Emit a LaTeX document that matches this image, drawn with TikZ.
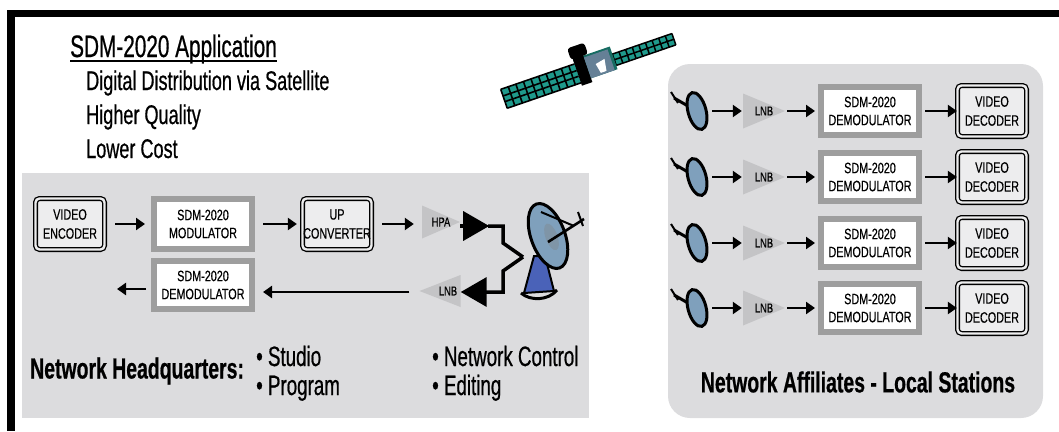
\documentclass[tikz,border=0pt]{standalone}
\usepackage{fontspec}
\setmainfont{Liberation Sans}
\newfontfamily\narrowfont[FakeStretch=0.72,FakeBold=0.4]{Liberation Sans}
\newfontfamily\condfont[FakeStretch=0.67,FakeBold=0.6]{Liberation Sans}
\usetikzlibrary{arrows.meta,positioning}

\definecolor{panelgray}{HTML}{DCDCDE}
\definecolor{framegray}{HTML}{9E9E9E}
\definecolor{ampgray}{HTML}{C4C4C6}
\definecolor{dishblue}{HTML}{7FA0BC}
\definecolor{baseblue}{HTML}{4A62B8}
\definecolor{panelteal}{HTML}{1F9A8C}
\colorlet{boxfill}{white!50!panelgray}

\begin{document}
\begin{tikzpicture}[x=1pt, y=-1pt,
    modem/.style={draw=framegray, line width=6pt, fill=white, minimum width=98pt,
        minimum height=48pt, inner sep=0pt, align=center,
        font=\narrowfont\fontsize{15}{18}\selectfont},
    tvbox/.style={draw=black, line width=1.3pt, double=boxfill, double distance=2.4pt,
        rounded corners=4pt, fill=boxfill, minimum width=69pt, minimum height=51pt,
        inner sep=0pt, align=center, font=\narrowfont\fontsize{15}{19}\selectfont},
    amp/.style={minimum width=38pt, minimum height=33pt, inner sep=0pt,
        font=\narrowfont\fontsize{13}{13}\selectfont,
        path picture={\fill[ampgray] (path picture bounding box.north west)
            -- (path picture bounding box.east)
            -- (path picture bounding box.south west) -- cycle;}},
    ampback/.style={minimum width=38pt, minimum height=33pt, inner sep=0pt,
        font=\narrowfont\fontsize{13}{13}\selectfont,
        path picture={\fill[ampgray] (path picture bounding box.north east)
            -- (path picture bounding box.west)
            -- (path picture bounding box.south east) -- cycle;}},
    arr/.style={line width=2.8pt, -{Triangle[length=9pt,width=12pt]},
        shorten <=9pt, shorten >=6pt},
    bolt/.style={line width=3.5pt},
    txt/.style={inner sep=0pt, anchor=base west, font=\condfont\fontsize{27}{27}\selectfont},
    head/.style={inner sep=0pt, font=\condfont\bfseries\fontsize{29}{29}\selectfont}]

\useasboundingbox (0,0) rectangle (1059,431);

% frame
\fill (7,10) rectangle (1059,17);
\fill (7,10) rectangle (15,431);

% panels
\fill[panelgray] (22,173) rectangle (589,418);
\fill[panelgray, rounded corners=22pt] (668,64) rectangle (1043,418);

% heading
\node[txt, font=\condfont\fontsize{31}{31}\selectfont] (title) at (70,57) {SDM-2020 Application};
\draw[line width=1.4pt] ([yshift=-4pt]title.base west) -- ([yshift=-4pt]title.base east);
\node[txt] (line1) at (86,90) {Digital Distribution via Satellite};
\node[txt] (line2) at (86,124) {Higher Quality};
\node[txt] (line3) at (86,158) {Lower Cost};

% satellite
\begin{scope}[shift={(590,66)}, rotate=19]
    \fill[panelteal] (-92,-7) rectangle (-14,13);
    \fill[panelteal] (25,-4) rectangle (88,8);
    \foreach \u in {-92,-84,...,-20}
        \draw[line width=1.6pt] (\u,-7) -- (\u,13);
    \foreach \v in {-7,0,6,13}
        \draw[line width=1.6pt] (-92,\v) -- (-14,\v);
    \foreach \u in {25,32,...,88}
        \draw[line width=1.5pt] (\u,-4) -- (\u,8);
    \foreach \v in {-4,2,8}
        \draw[line width=1.5pt] (25,\v) -- (88,\v);
    \fill[panelteal!70!black] (-14,-12) rectangle (25,12);
    \fill[black] (-14,-14) rectangle (-3,16);
    \fill[dishblue!80!black] (-3,-10) rectangle (22,12);
    \fill[white] (6,0) -- (16,-2) -- (14,10) -- (8,10) -- cycle;
    \fill[black, rounded corners=3pt] (-16,-24) rectangle (2,-12);
\end{scope}

% uplink chain
\node[tvbox] (enc) at (70,224) {VIDEO\\ENCODER};
\node[modem, minimum height=50pt] (mod) at (203,224) {SDM-2020\\MODULATOR};
\node[tvbox] (upc) at (337,224) {UP\\CONVERTER};
\node[amp] (hpa) at (441,222) {HPA\hspace{9pt}};

\draw[arr, shorten <=10pt] (enc) -- (mod);
\draw[arr, shorten <=8pt, shorten >=5pt] (mod) -- (upc);
\draw[arr, shorten <=10pt, shorten >=8pt] (upc) -- (hpa.west |- upc);

% dish
\coordinate (dishin) at (523,257);
\draw[bolt, -{Triangle[length=26pt,width=29pt]}] (hpa.east |- 0,226) -- ++(29,0);
\draw[bolt] (488,226) -| (503,243) -- (dishin);
\filldraw[fill=baseblue, line width=2pt] (534,256) -- (545,256) -- (554,291) -- (524,293) -- cycle;
\draw[line width=3pt] (521,293) .. controls (530,301) and (548,301) .. (557,290);
\filldraw[fill=dishblue, line width=3pt, rotate around={20:(548,236)}] (548,236) ellipse (17 and 34);
\fill[dishblue!65!gray, rotate around={20:(548,236)}] (551,238) ellipse (6 and 14);
\draw[line width=2.6pt] (548,242) -- (584,219);
\draw[line width=2pt] (541,212) -- (574,226);
\draw[line width=2pt] (578,212) -- (583,226);

\node[ampback, minimum width=41pt, minimum height=32pt] (lnb) at (440,291) {\hspace{16pt}LNB};
\draw[bolt, -{Triangle[length=26pt,width=29pt]}] (dishin) -- (503,271) -- (503,292) -- (lnb.east |- 0,292);

% downlink
\node[modem] (dem) at (203,285) {SDM-2020\\DEMODULATOR};
\coordinate (out) at (117,289);
\draw[arr, shorten <=10pt, shorten >=8pt] (lnb.west |- 0,292) -- (dem.east |- 0,292);
\draw[arr, shorten <=5pt, shorten >=0pt] (dem.west |- out) -- (out);

\node[head, anchor=west] (hq) at (30,371) {Network Headquarters:};
\node[txt, font=\condfont\fontsize{28}{28}\selectfont] (b1) at (256,366) {• Studio};
\node[txt, font=\condfont\fontsize{28}{28}\selectfont] (b2) at (256,395) {• Program};
\node[txt, font=\condfont\fontsize{28}{28}\selectfont] (b3) at (432,366) {• Network Control};
\node[txt, font=\condfont\fontsize{28}{28}\selectfont] (b4) at (432,395) {• Editing};

% affiliates
\foreach \y [count=\i] in {111,177,243,308} {
    \draw[line width=3pt] (695,\y-1) -- (674,\y-13);
    \draw[line width=2pt] (671,\y-19) -- (678,\y-8);
    \filldraw[fill=dishblue, line width=3pt, rotate around={15:(697,\y)}] (697,\y) ellipse (9 and 19);
    \coordinate (rx\i) at (710,\y);
    \node[amp, minimum width=42pt, minimum height=35pt] (rlnb\i) at (764,\y) {LNB\hspace{14pt}};
    \node[modem] (rdem\i) at (870,\y) {SDM-2020\\DEMODULATOR};
    \node[tvbox] (dec\i) at (992,\y) {VIDEO\\DECODER};
    \draw[arr, shorten <=2pt, shorten >=1pt] (rx\i) -- (rlnb\i.west);
    \draw[arr, shorten <=2pt, shorten >=3pt] (rlnb\i.east) -- (rdem\i.west);
    \draw[arr, shorten <=3pt, shorten >=0pt] (rdem\i.east) -- (dec\i.west);
}

\node[head] (aff) at (858,382) {Network Affiliates - Local Stations};

\end{tikzpicture}
\end{document}
